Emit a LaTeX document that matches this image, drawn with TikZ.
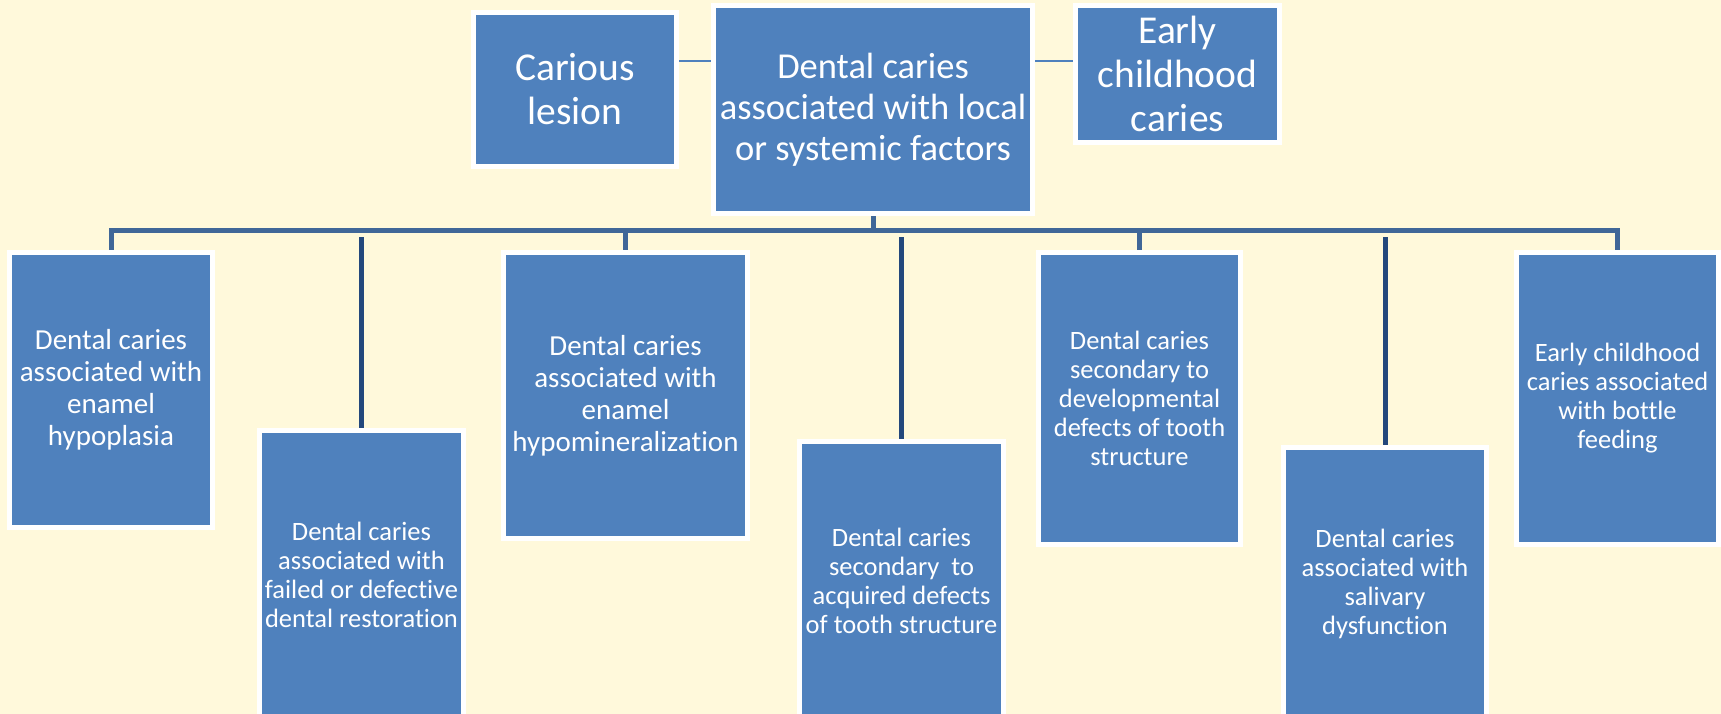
\documentclass[tikz,border=0pt]{standalone}
\usepackage{fontspec}
\setmainfont{Carlito}[Ligatures={NoCommon}]
\usetikzlibrary{backgrounds}
\definecolor{cream}{RGB}{255,249,219}
\definecolor{boxblue}{RGB}{79,129,189}
\definecolor{busblue}{RGB}{64,103,152}
\definecolor{stemblue}{RGB}{35,72,124}

\begin{document}
\begin{tikzpicture}[x=1pt, y=-1pt,
    card/.style={fill=boxblue, draw=white, line width=5pt, text=white, align=center, inner sep=0pt},
    tie/.style={boxblue, line width=1.5pt},
    bus/.style={busblue, line width=5pt},
    stem/.style={stemblue, line width=5pt}]
    \useasboundingbox (0,0) rectangle (1721,714);
    \node[card, minimum width=203pt, minimum height=154pt, font=\fontsize{39.5}{44}\selectfont] (lesion) at (575,89.5) {Carious\\lesion};
    \node[card, minimum width=319pt, minimum height=208pt, font=\fontsize{36.5}{41}\selectfont] (main) at (873,109.5) {Dental caries\\associated with local\\or systemic factors};
    \node[card, minimum width=204pt, minimum height=137pt, font=\fontsize{39.5}{44}\selectfont] (early) at (1177.5,74) {Early\\childhood\\caries};
    \foreach \n/\x/\y/\w/\h/\fs/\bs/\txt in {
        b1/111/390/203/275/29/32/{Dental caries\\associated with\\enamel\\hypoplasia},
        b2/361.5/575/204/289/26.5/29/{Dental caries\\associated with\\failed or defective\\dental restoration},
        b3/625.5/395.5/244/286/29/32/{Dental caries\\associated with\\enamel\\hypomineralization},
        b4/901.5/581/204/279/26.5/29/{Dental caries\\secondary\ \ to\\acquired defects\\of tooth structure},
        b5/1139.5/398.5/202/292/26.5/29/{Dental caries\\secondary to\\developmental\\defects of tooth\\structure},
        b6/1385/584/203/273/26.5/29/{Dental caries\\associated with\\salivary\\dysfunction},
        b7/1617.5/398.5/202/292/26.5/29/{Early childhood\\caries associated\\with bottle\\feeding}}{
    \node[card, minimum width=\w pt, minimum height=\h pt, font=\fontsize{\fs}{\bs}\selectfont] (\n) at (\x,\y) {\txt};
    }
    % links behind the boxes
    \begin{scope}[on background layer]
    \fill[cream] (0,0) rectangle (1721,714);
    \coordinate (level) at (0,61);
    \coordinate (bar) at (0,230.5);
    \coordinate (gap) at (0,237);
    \draw[tie] (lesion.east |- level) -- (main.west |- level);
    \draw[tie] (main.east |- level) -- (early.west |- level);
    \draw[bus] (main.south) -- (main.south |- bar);
    \draw[bus] (b1.north) -- (b1.north |- bar) -- (b7.north |- bar) -- (b7.north);
    \foreach \n in {b3,b5}{
    \draw[bus] (\n.north |- bar) -- (\n.north);
    }
    \foreach \n in {b2,b4,b6}{
    \draw[stem] (\n.north |- gap) -- (\n.north);
    }
    \end{scope}
\end{tikzpicture}
\end{document}
